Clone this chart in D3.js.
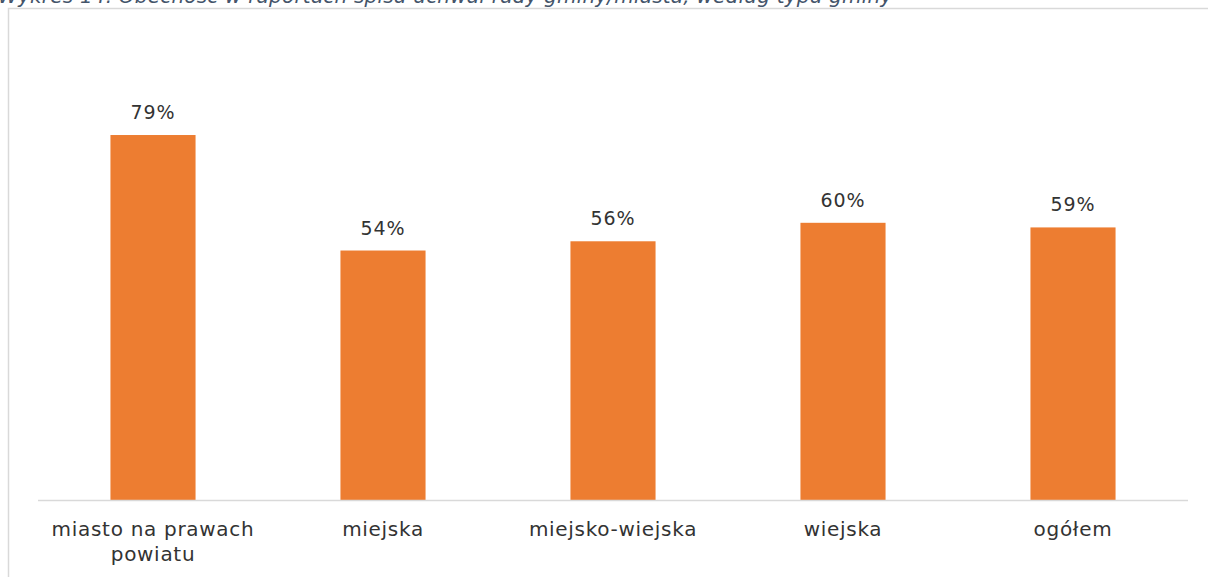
<!DOCTYPE html>
<html>
<head>
<meta charset="utf-8">
<script src="https://cdn.jsdelivr.net/npm/d3@7"></script>
<style>
  body { margin: 0; background: #fff; }
  svg { display: block; }
</style>
</head>
<body>
<div id="chart"></div>
<script>
// chart data
var categories = ["miasto na prawach powiatu", "miejska", "miejsko-wiejska", "wiejska", "ogółem"];
var values = [79, 54, 56, 60, 59];
var title = "Wykres 14. Obecność w raportach spisu uchwał rady gminy/miasta, według typu gminy";

var svgWidth = 1208;
var svgHeight = 577;

var svg = d3.select("#chart")
  .append("svg")
  .attr("width", svgWidth)
  .attr("height", svgHeight);

// caption, cut off at the top edge like the original
svg.append("text")
  .attr("x", -2)
  .attr("y", 3)
  .attr("font-family", "DejaVu Sans")
  .attr("font-style", "italic")
  .attr("font-size", "20px")
  .attr("letter-spacing", "0.2px")
  .attr("fill", "#44546a")
  .text(title);

// frame of the chart area (runs off right and bottom)
svg.append("rect")
  .attr("x", 8.5)
  .attr("y", 8.5)
  .attr("width", 1220)
  .attr("height", 600)
  .attr("fill", "none")
  .attr("stroke", "#d9d9d9")
  .attr("stroke-width", 1.5);

var plotLeft = 38, plotRight = 1188, baseY = 500;

var x = d3.scaleBand()
  .domain(categories)
  .range([plotLeft, plotRight])
  .paddingInner(0.63)
  .paddingOuter(0.315);

var y = d3.scaleLinear()
  .domain([0, 100])
  .range([baseY, 38]);

var data = categories.map(function(c, i) { return { cat: c, val: values[i] }; });

// bars
svg.selectAll("rect.bar")
  .data(data)
  .enter()
  .append("rect")
  .attr("class", "bar")
  .attr("x", d => x(d.cat))
  .attr("y", d => y(d.val))
  .attr("width", x.bandwidth())
  .attr("height", d => y(0) - y(d.val))
  .attr("fill", "#ed7d31");

// baseline
svg.append("line")
  .attr("x1", plotLeft)
  .attr("x2", plotRight)
  .attr("y1", baseY + 0.5)
  .attr("y2", baseY + 0.5)
  .attr("stroke", "#d9d9d9")
  .attr("stroke-width", 1.5);

// value labels
svg.selectAll("text.val")
  .data(data)
  .enter()
  .append("text")
  .attr("class", "val")
  .attr("x", d => x(d.cat) + x.bandwidth() / 2)
  .attr("y", d => y(d.val) - 16)
  .attr("text-anchor", "middle")
  .attr("font-family", "DejaVu Sans")
  .attr("font-size", "19px")
  .attr("letter-spacing", "1px")
  .attr("fill", "#333")
  .text(d => d.val + "%");

// category labels, wrapped like the original
var wrapped = {
  "miasto na prawach powiatu": ["miasto na prawach", "powiatu"]
};

var catLabels = svg.selectAll("text.cat")
  .data(data)
  .enter()
  .append("text")
  .attr("class", "cat")
  .attr("text-anchor", "middle")
  .attr("font-family", "DejaVu Sans")
  .attr("font-size", "20px")
  .attr("letter-spacing", "0.7px")
  .attr("fill", "#333");

catLabels.each(function(d) {
  var lines = wrapped[d.cat] || [d.cat];
  var t = d3.select(this);
  lines.forEach(function(line, i) {
    t.append("tspan")
      .attr("x", x(d.cat) + x.bandwidth() / 2)
      .attr("y", 536 + i * 25)
      .text(line);
  });
});
</script>
</body>
</html>
